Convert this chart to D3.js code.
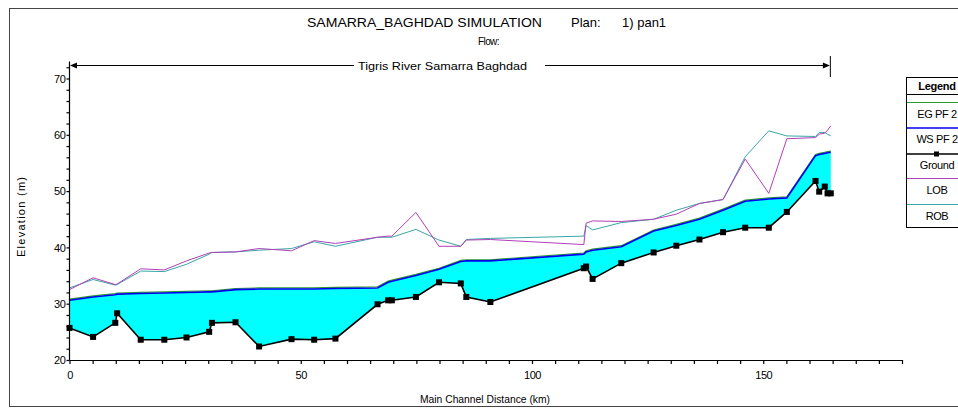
<!DOCTYPE html>
<html>
<head>
<meta charset="utf-8">
<script src="https://cdn.jsdelivr.net/npm/d3@7"></script>
<style>
	body { margin: 0; background: #fff; }
	svg { display: block; font-family: 'Liberation Sans', Arial, sans-serif; }
</style>
</head>
<body>
<div id="chart"></div>
<script>
// river stations (km) shared by every profile
var stations = [0, 5.1, 9.9, 10.3, 15.4, 20.5, 25.3, 30.2, 30.8, 35.9, 41.0, 48.0, 52.9, 57.5,
	66.6, 68.9, 69.7, 74.9, 79.9, 84.6, 85.8, 91.0, 111.2, 111.7, 113.1, 119.3, 126.3,
	131.2, 136.2, 141.3, 146.1, 151.2, 155.1, 161.3, 162.1, 163.3, 163.9, 164.6];

var ground = [25.7, 24.1, 26.6, 28.3, 23.6, 23.6, 24.0, 25.0, 26.6, 26.7, 22.4, 23.7, 23.6, 23.8,
	29.9, 30.6, 30.6, 31.2, 33.8, 33.6, 31.2, 30.3, 36.3, 36.6, 34.4, 37.2, 39.1,
	40.3, 41.4, 42.7, 43.5, 43.5, 46.3, 51.8, 49.9, 50.8, 49.6, 49.6];

var ws = [30.6, 31.2, 31.6, 31.7, 31.8, 31.9, 32.0, 32.1, 32.1, 32.5, 32.6, 32.6, 32.6, 32.7,
	32.8, 33.8, 34.0, 35.0, 36.1, 37.5, 37.6, 37.6, 38.8, 39.2, 39.5, 40.1, 42.9,
	43.9, 45.0, 46.6, 48.2, 48.6, 48.8, 56.3, 56.5, 56.7, 56.8, 56.9];

var eg = [30.8, 31.4, 31.8, 31.9, 32.0, 32.1, 32.2, 32.3, 32.3, 32.7, 32.8, 32.8, 32.8, 32.9,
	33.0, 34.0, 34.2, 35.2, 36.3, 37.7, 37.8, 37.8, 39.0, 39.4, 39.7, 40.3, 43.1,
	44.1, 45.2, 46.8, 48.4, 48.8, 49.0, 56.5, 56.7, 56.9, 57.0, 57.1];

var lob = [32.5, 34.6, 33.4, 33.5, 36.2, 36.0, 37.6, 39.0, 39.1, 39.2, 39.8, 39.4, 41.2, 40.7,
	41.8, 42.0, 42.0, 46.2, 40.2, 40.2, 41.3, 41.4, 40.5, 44.3, 44.7, 44.6, 45.0,
	45.9, 47.8, 48.5, 55.7, 49.6, 59.3, 59.5, 60.1, 60.3, 60.8, 61.6];

var rob = [32.8, 34.3, 33.3, 33.4, 35.8, 35.7, 37.0, 38.8, 39.1, 39.2, 39.5, 39.8, 41.0, 40.2,
	41.8, 41.8, 41.8, 43.2, 41.3, 40.2, 41.4, 41.6, 42.0, 43.9, 43.1, 44.4, 45.0,
	46.6, 47.8, 48.5, 56.1, 60.7, 59.8, 59.7, 60.4, 60.4, 60.1, 59.8];

var x_ticks = [0, 50, 100, 150];
var y_ticks = [20, 30, 40, 50, 60, 70];
var legend_labels = ['EG  PF 2', 'WS  PF 2', 'Ground', 'LOB', 'ROB'];

var width = 958, height = 408;

var svg = d3.select('#chart')
	.append('svg')
	.attr('width', width)
	.attr('height', height);

// outer frame
svg.append('rect')
	.attr('x', 9.5).attr('y', 8.5)
	.attr('width', 970).attr('height', 398)
	.style('fill', 'none')
	.style('stroke', '#444')
	.style('stroke-width', 1);

var x = d3.scaleLinear().domain([0, 180]).range([69.5, 902]);
var y = d3.scaleLinear().domain([20, 73]).range([360, 61.6]);

var rows = stations.map(function(s, i) {
	return { s: s, ground: ground[i], ws: ws[i], eg: eg[i], lob: lob[i], rob: rob[i] };
});

// water between bed and water surface
svg.append('path')
	.datum(rows)
	.attr('d', d3.area()
		.x(function(d) { return x(d.s); })
		.y0(function(d) { return y(d.ground); })
		.y1(function(d) { return y(d.ws); }))
	.style('fill', '#00ffff');

function profile(key, color, w) {
	svg.append('path')
		.datum(rows)
		.attr('d', d3.line()
			.x(function(d) { return x(d.s); })
			.y(function(d) { return y(d[key]); }))
		.style('fill', 'none')
		.style('stroke', color)
		.style('stroke-width', w);
}

profile('rob', '#3aa5a5', 1);
profile('lob', '#b040b8', 1);
profile('eg', '#2e9a2e', 1.2);
profile('ws', '#0000ee', 1.6);
profile('ground', '#000', 1.6);

svg.selectAll('rect.gp')
	.data(rows)
	.enter()
	.append('rect')
	.attr('class', 'gp')
	.attr('x', function(d) { return x(d.s) - 3; })
	.attr('y', function(d) { return y(d.ground) - 3; })
	.attr('width', 6)
	.attr('height', 6)
	.style('fill', '#000');

// axes
var xAxis = d3.axisBottom(x)
	.tickValues(d3.range(0, 181, 5))
	.tickSize(4)
	.tickFormat(function(d) { return x_ticks.indexOf(d) >= 0 ? d : ''; });

var gx = svg.append('g')
	.attr('transform', 'translate(0,360)')
	.call(xAxis);
gx.select('.domain').attr('d', 'M69.5,0.5H902');

var yAxis = d3.axisLeft(y)
	.tickValues(d3.range(20, 73, 2))
	.tickSize(3)
	.tickFormat(function(d) { return y_ticks.indexOf(d) >= 0 ? d : ''; });

var gy = svg.append('g')
	.attr('transform', 'translate(69.5,0)')
	.call(yAxis);
gy.select('.domain').attr('d', 'M0,360V61.6');

svg.selectAll('.tick text')
	.style('font-family', "'Liberation Sans', Arial, sans-serif")
	.style('font-size', '11px')
	.style('letter-spacing', '-0.4px')
	.style('fill', '#000');
gx.selectAll('.tick text').attr('dy', '1.1em');
gy.selectAll('.tick text').attr('x', -4).attr('dy', '0.35em');
svg.selectAll('.domain, .tick line').style('stroke', '#000').style('stroke-width', 1.2);

// titles
svg.append('text')
	.attr('x', 307).attr('y', 27)
	.attr('textLength', 235).attr('lengthAdjust', 'spacingAndGlyphs')
	.style('font-size', '13px')
	.text('SAMARRA_BAGHDAD SIMULATION');
svg.append('text')
	.attr('x', 571).attr('y', 27)
	.style('font-size', '13px')
	.text('Plan:');
svg.append('text')
	.attr('x', 622).attr('y', 27)
	.style('font-size', '13px')
	.text('1) pan1');
svg.append('text')
	.attr('x', 478).attr('y', 45)
	.style('font-size', '10px')
	.style('letter-spacing', '-0.6px')
	.text('Flow:');

svg.append('text')
	.attr('x', 485).attr('y', 403)
	.attr('text-anchor', 'middle')
	.attr('textLength', 130).attr('lengthAdjust', 'spacingAndGlyphs')
	.style('font-size', '10px')
	.text('Main Channel Distance (km)');

svg.append('text')
	.attr('transform', 'translate(25,217) rotate(-90)')
	.attr('text-anchor', 'middle')
	.attr('textLength', 80).attr('lengthAdjust', 'spacing')
	.style('font-size', '11px')
	.text('Elevation (m)');

// reach bracket
var x_end = x(164.4);
svg.append('text')
	.attr('x', 358).attr('y', 70)
	.attr('textLength', 169).attr('lengthAdjust', 'spacingAndGlyphs')
	.style('font-size', '11px')
	.text('Tigris River Samarra Baghdad');
svg.append('path')
	.attr('d', 'M71,65.5H354M545,65.5H' + (x_end - 1) +
		'M' + (x_end + 0.5) + ',56V77')
	.style('stroke', '#000')
	.style('fill', 'none');
svg.append('path')
	.attr('d', 'M70,65.5l7,-3v6z')
	.style('fill', '#000');
svg.append('path')
	.attr('d', 'M' + x_end + ',65.5l-7,-3v6z')
	.style('fill', '#000');

// legend
var lg = svg.append('g');
lg.append('rect')
	.attr('x', 906.5).attr('y', 77.5)
	.attr('width', 70).attr('height', 150)
	.style('fill', '#fff')
	.style('stroke', '#000');
lg.append('line')
	.attr('x1', 906.5).attr('x2', 960).attr('y1', 94.5).attr('y2', 94.5)
	.style('stroke', '#000');
lg.append('text')
	.attr('x', 937).attr('y', 90)
	.attr('text-anchor', 'middle')
	.style('font-size', '11px')
	.style('font-weight', 'bold')
	.style('letter-spacing', '-0.3px')
	.text('Legend');

var legend_colors = ['#2e9a2e', '#0000ee', '#000', '#b040b8', '#3aa5a5'];
var row_y = [102.5, 128, 154, 178.5, 204.5];
legend_labels.forEach(function(label, i) {
	lg.append('line')
		.attr('x1', 907).attr('x2', 960)
		.attr('y1', row_y[i]).attr('y2', row_y[i])
		.style('stroke', legend_colors[i])
		.style('stroke-width', i == 1 || i == 2 ? 1.5 : 1);
	if (label == 'Ground') {
		lg.append('rect')
			.attr('x', 934).attr('y', row_y[i] - 2.5)
			.attr('width', 5).attr('height', 5)
			.style('fill', '#000');
	}
	lg.append('text')
		.attr('x', 937).attr('y', row_y[i] + 15)
		.attr('text-anchor', 'middle')
		.style('font-size', '11px')
		.style('letter-spacing', '-0.4px')
		.text(label);
});
</script>
</body>
</html>
